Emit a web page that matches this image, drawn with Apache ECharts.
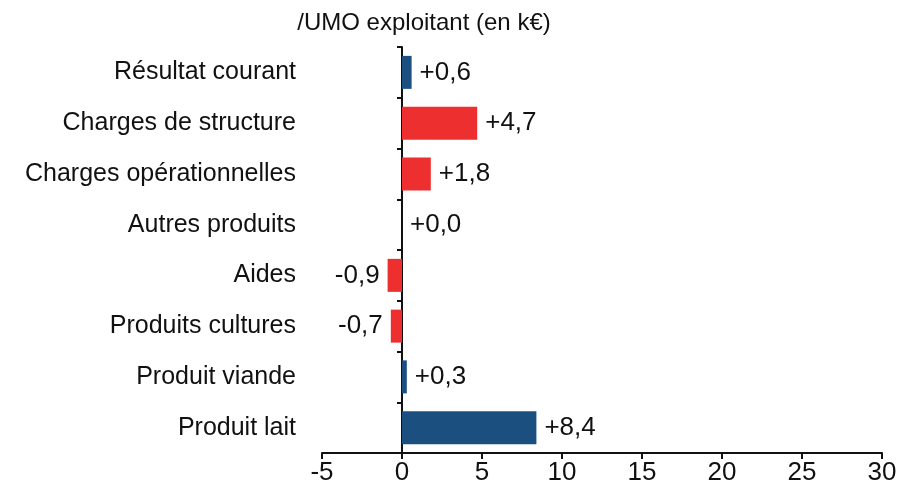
<!DOCTYPE html>
<html>
<head>
<meta charset="utf-8">
<script src="https://cdn.jsdelivr.net/npm/echarts@6/dist/echarts.min.js"></script>
<style>
  html, body { margin: 0; padding: 0; background: #fff; }
  #chart { width: 912px; height: 492px; }
</style>
</head>
<body>
<div id="chart"></div>
<script>
// categories from bottom to top
const categories = ['Produit lait', 'Produit viande', 'Produits cultures', 'Aides',
  'Autres produits', 'Charges opérationnelles', 'Charges de structure', 'Résultat courant']
const values = [8.4, 0.3, -0.7, -0.9, 0.0, 1.8, 4.7, 0.6]
const barColors = ['#1b4f80', '#1b4f80', '#ee2f2f', '#ee2f2f', '#ee2f2f', '#ee2f2f', '#ee2f2f', '#1b4f80']
const xTicks = { min: -5, max: 30, interval: 5 }

const FONT = '"Liberation Sans", Arial, sans-serif'
const fmt = v => (v >= 0 ? '+' : '-') + Math.abs(v).toFixed(1).replace('.', ',')

const chart = echarts.init(document.getElementById('chart'))
chart.setOption({
  animation: false,
  title: {
    text: '/UMO exploitant (en k€)',
    left: 419, top: 6, textAlign: 'center',
    textStyle: { fontFamily: FONT, fontSize: 24, fontWeight: 'normal', color: '#111' }
  },
  grid: { left: 322, right: 30, top: 47, bottom: 39 },
  xAxis: {
    type: 'value', min: xTicks.min, max: xTicks.max, interval: xTicks.interval,
    splitLine: { show: false },
    axisLine: { show: true, onZero: false, lineStyle: { color: '#111', width: 2 } },
    axisTick: { show: true, length: 6, lineStyle: { color: '#111', width: 2 } },
    axisLabel: { fontFamily: FONT, fontSize: 26, color: '#111', margin: 7 }
  },
  yAxis: [
    {
      type: 'category', data: categories,
      axisLine: { show: false, onZero: false },
      axisTick: { show: false },
      axisLabel: { fontFamily: FONT, fontSize: 25, color: '#111', margin: 26 }
    },
    {
      type: 'category', data: categories, position: 'left',
      axisLine: { show: true, onZero: true, lineStyle: { color: '#111', width: 2 } },
      axisTick: { show: true, length: 5, lineStyle: { color: '#111', width: 2 } },
      axisLabel: { show: false }
    }
  ],
  series: [{
    type: 'bar',
    yAxisIndex: 0,
    barWidth: 33,
    data: values.map((v, i) => ({
      value: v,
      itemStyle: { color: barColors[i] },
      label: { position: v < 0 ? 'left' : 'right' }
    })),
    label: {
      show: true, distance: 8,
      fontFamily: FONT, fontSize: 26, color: '#111',
      formatter: p => fmt(p.value)
    }
  }]
})
</script>
</body>
</html>
